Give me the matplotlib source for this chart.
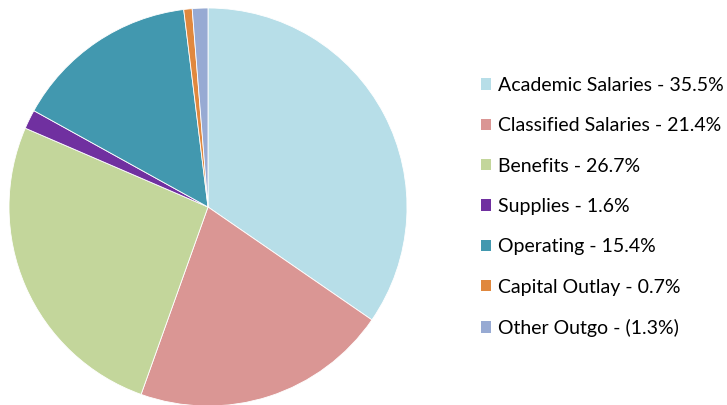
import matplotlib.pyplot as plt
from matplotlib.patches import Patch

# Budget shares (percent); Other Outgo shown as a negative in the label
categories = ["Academic Salaries", "Classified Salaries", "Benefits", "Supplies",
              "Operating", "Capital Outlay", "Other Outgo"]
shares = [35.5, 21.4, 26.7, 1.6, 15.4, 0.7, 1.3]
share_labels = ["35.5%", "21.4%", "26.7%", "1.6%", "15.4%", "0.7%", "(1.3%)"]

colors = ["#B7DEE8", "#DA9694", "#C3D69B", "#7030A0", "#4298AF", "#E0883E", "#97AAD3"]

plt.rcParams['font.family'] = ['Lato', 'DejaVu Sans']

W, H = 727, 405
fig = plt.figure(figsize=(W / 100, H / 100), dpi=100)

# pie axes: centre ~ (208, 207) px, radius ~ 199 px
cx, cy, r = 208, 207, 199
ax = fig.add_axes([(cx - r) / W, (H - cy - r) / H, 2 * r / W, 2 * r / H])
ax.pie(shares, colors=colors, startangle=90, counterclock=False, radius=1,
       wedgeprops=dict(edgecolor="white", linewidth=0.6))
ax.set_xlim(-1, 1)
ax.set_ylim(-1, 1)
ax.set_aspect("equal")
ax.axis("off")

handles = [Patch(facecolor=c, edgecolor="none") for c in colors]
labels = [f"{cat} - {lab}" for cat, lab in zip(categories, share_labels)]
fig.legend(handles, labels, loc="center left", bbox_to_anchor=(481 / W, 1 - 207 / H),
           frameon=False, fontsize=14, handlelength=0.52, handleheight=0.52,
           handletextpad=0.36, labelspacing=1.2, borderpad=0, borderaxespad=0)

fig.savefig("out.png", dpi=100)
